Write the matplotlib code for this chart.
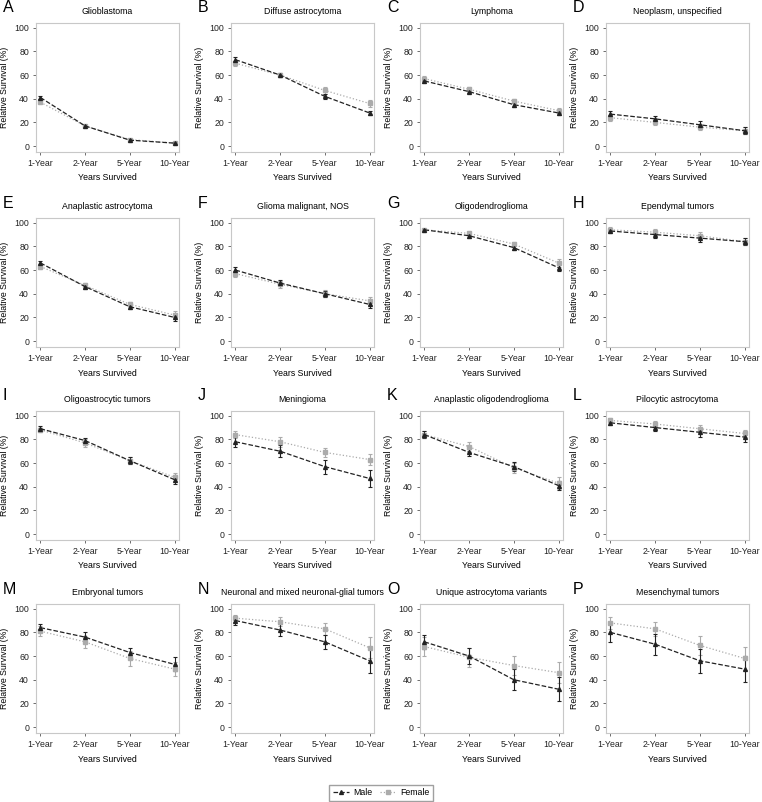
import matplotlib
matplotlib.use("Agg")
import matplotlib.pyplot as plt
from matplotlib.lines import Line2D
import numpy as np

plt.rcParams['font.family'] = ['Liberation Sans', 'DejaVu Sans']

years = ["1-Year", "2-Year", "5-Year", "10-Year"]
letters = list("ABCDEFGHIJKLMNOP")
titles = ["Glioblastoma", "Diffuse astrocytoma", "Lymphoma", "Neoplasm, unspecified",
          "Anaplastic astrocytoma", "Glioma malignant, NOS", "Oligodendroglioma", "Ependymal tumors",
          "Oligoastrocytic tumors", "Meningioma", "Anaplastic oligodendroglioma", "Pilocytic astrocytoma",
          "Embryonal tumors", "Neuronal and mixed neuronal-glial tumors", "Unique astrocytoma variants",
          "Mesenchymal tumors"]

male = [[41, 17, 5, 2.5], [73, 60, 42, 28], [55, 46, 35, 28], [27, 23, 18, 13],
        [66, 46, 29, 20], [60, 49, 40, 31], [94, 89, 79, 62], [93, 90, 87, 84],
        [89, 79, 62, 46], [78, 70, 57, 47], [84, 69, 57, 41], [94, 90, 86, 82],
        [84, 76, 63, 53], [90, 82, 72, 56], [72, 60, 40, 32], [80, 70, 56, 49]]
female = [[37, 17, 5.5, 2.5], [70, 60, 47, 36], [57, 48, 38, 30], [24, 20, 16, 13],
          [63, 47, 31, 22], [57, 48, 40, 34], [94, 91, 82, 66], [94, 92, 89, 84],
          [88, 77, 62, 48], [84, 78, 69, 63], [84, 74, 56, 43], [96, 93, 89, 85],
          [81, 72, 58, 49], [92, 89, 83, 67], [68, 59, 52, 46], [88, 83, 69, 58]]
male_err = [[1, 0.8, 0.5, 0.5], [2, 2, 2, 2], [2, 1.5, 2, 2], [2.5, 2.5, 3, 3],
            [2, 2, 2, 3], [2.5, 2.5, 2.5, 3], [1, 1.5, 2, 3], [2, 2.5, 3, 3],
            [2, 2.5, 3, 4], [4, 5, 6, 7], [3, 3, 4, 4], [2, 3, 4, 4],
            [3, 4, 4, 6], [4, 5, 6, 10], [6, 7, 9, 10], [8, 9, 10, 11]]
female_err = [[1, 0.8, 0.5, 0.5], [2, 2, 3, 3], [2, 2, 2, 2], [2.5, 2.5, 2.5, 3],
              [2, 2, 2, 3], [2.5, 3, 3, 3.5], [1, 1.5, 2, 3], [2, 2.5, 3, 3],
              [2, 3, 3, 4], [3, 4, 4, 5], [3, 4, 4, 5], [2, 2.5, 3, 3],
              [4, 5, 6, 6], [3, 4, 5, 9], [8, 8, 8, 9], [5, 6, 8, 10]]

W, H = 762, 802
fig = plt.figure(figsize=(W / 100, H / 100), dpi=100)

lefts = [36, 231, 420, 606]
tops = [23, 218, 411, 604]
aw, ah = 143, 129
frame_col = "#c8c8c8"
fs = 6.3
x = np.arange(4)

for i in range(16):
    r, c = divmod(i, 4)
    l, t = lefts[c], tops[r]
    ax = fig.add_axes([l / W, 1 - (t + ah) / H, aw / W, ah / H])
    ax.errorbar(x, female[i], yerr=female_err[i], color="#ababab", ls=":", lw=0.9,
                marker="s", ms=2.5, capsize=1.5, elinewidth=0.8, capthick=0.8)
    ax.errorbar(x, male[i], yerr=male_err[i], color="#222222", ls="--", lw=0.9,
                marker="^", ms=2.8, capsize=1.5, elinewidth=0.8, capthick=0.8)
    ax.set_xlim(-0.1, 3.1)
    ax.set_ylim(-5, 104)
    ax.set_xticks(x)
    ax.set_xticklabels(years)
    ax.set_yticks([0, 20, 40, 60, 80, 100])
    ax.tick_params(labelsize=fs, length=2.5, width=0.6, color="#555555",
                   labelcolor="#222222", pad=2.5)
    for s in ax.spines.values():
        s.set_color(frame_col)
        s.set_linewidth(0.8)
    ax.set_xlabel("Years Survived", fontsize=fs, labelpad=4)
    ax.set_ylabel("Relative Survival (%)", fontsize=fs, labelpad=4)
    ax.set_title(titles[i], fontsize=fs, pad=6.5)
    fig.text((l - 33) / W, 1 - (t - 15) / H, letters[i], fontsize=11.5, ha="left", va="center")

handles = [Line2D([], [], color="#222222", ls="--", lw=0.9, marker="^", ms=2.8),
           Line2D([], [], color="#ababab", ls=":", lw=0.9, marker="s", ms=2.5)]
fig.legend(handles, ["Male", "Female"], loc="lower center", bbox_to_anchor=(0.5, -0.004),
           ncol=2, fontsize=fs, frameon=True, fancybox=False, edgecolor="#888888",
           handlelength=1.8, columnspacing=0.9, borderpad=0.4, handletextpad=0.5)

fig.savefig("out.png", dpi=100)
